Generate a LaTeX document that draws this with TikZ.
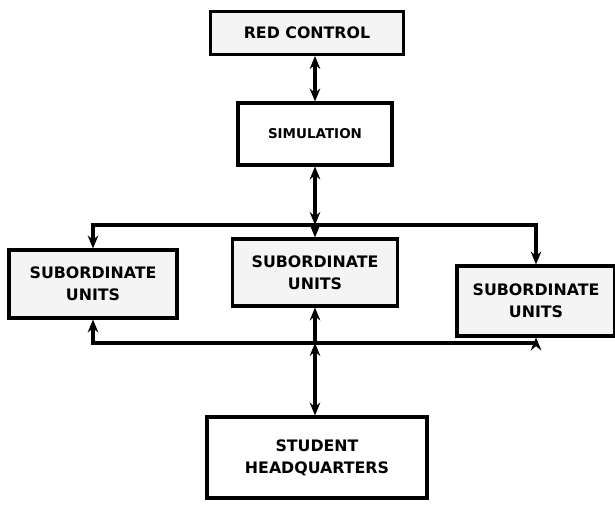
\documentclass[tikz,border=0pt]{standalone}
\usepackage{fontspec}
\setmainfont{DejaVu Sans}
\usepackage{tikz}
\usetikzlibrary{arrows,arrows.meta,positioning,calc}

\begin{document}
\begin{tikzpicture}[
    x=0.03cm, y=0.03cm,
    every node/.style = {draw, rectangle, line width=2.6pt, align=center,
      font=\fontsize{13.5}{19}\selectfont\bfseries, inner sep=2pt},
    shaded/.style = {fill=gray!9},
    link/.style = {line width=2.6pt},
    >={Stealth[length=11pt,width=9pt]}
  ]
  \useasboundingbox (0,0) rectangle (615,509);
  % boxes
  \node[shaded, minimum width=5.79cm, minimum height=1.29cm] (red) at (307,476) {RED CONTROL};
  \node[minimum width=4.62cm, minimum height=1.86cm,
    font=\fontsize{11.5}{14}\selectfont\bfseries] (sim) at (315,375) {SIMULATION};
  \node[shaded, minimum width=5.04cm, minimum height=2.04cm] (subl) at (93,225) {SUBORDINATE\\UNITS};
  \node[shaded, minimum width=4.95cm, minimum height=2.01cm] (subm) at (315,236.5) {SUBORDINATE\\UNITS};
  \node[shaded, minimum width=4.74cm, minimum height=2.1cm] (subr) at (536,208) {SUBORDINATE\\UNITS};
  \node[minimum width=6.6cm, minimum height=2.43cm] (hq) at (317,51.5) {STUDENT\\HEADQUARTERS};

  \coordinate (top) at (315,284);
  \coordinate (bot) at (315,166);

  % links
  \draw[link, <->] (sim.north) -- (sim.north |- red.south);
  \draw[link, <->] (sim.south) -- (top);
  \draw[link, ->] (top) -- (subm.north);
  \draw[link, ->] (top) -| (subl.north);
  \draw[link, ->] (top) -| (subr.north);
  \draw[link, ->] (bot) -- (subm.south);
  \draw[link, ->] (bot) -| (subl.south);
  \draw[link, ->] (bot) -| (subr.south);
  \draw[link, <->] (bot) -- (hq.north -| bot);
\end{tikzpicture}
\end{document}
